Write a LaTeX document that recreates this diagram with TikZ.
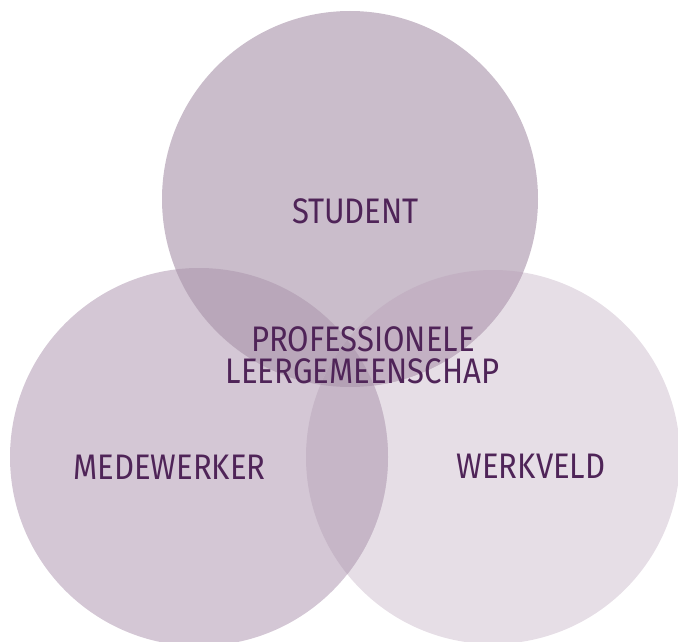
\documentclass[tikz,border=0pt]{standalone}
\usepackage{fontspec}
\setmainfont{Fira Sans}[FakeStretch=0.875]
\definecolor{cTop}{RGB}{202,189,203}
\definecolor{cLeft}{RGB}{212,199,213}
\definecolor{cRight}{RGB}{230,222,230}
\definecolor{cTL}{RGB}{185,167,186}
\definecolor{cTR}{RGB}{195,177,195}
\definecolor{cLR}{RGB}{198,182,199}
\definecolor{cTLR}{RGB}{180,161,181}
\definecolor{txt}{RGB}{79,36,88}
\tikzset{lbl/.style={text=txt,font=\fontsize{35.5}{32}\selectfont,align=center,inner sep=0pt}}
\begin{document}
\begin{tikzpicture}[x=1pt,y=-1pt]
\useasboundingbox (0,0) rectangle (678,642);
\clip (0,0) rectangle (678,642);
\def\topc{(350,199) circle (188)}
\def\leftc{(199,457) circle (189)}
\def\rightc{(493,457) circle (187)}
\fill[cRight] \rightc;
\fill[cLeft] \leftc;
\fill[cTop] \topc;
\begin{scope}\clip \topc; \fill[cTL] \leftc; \fill[cTR] \rightc;\end{scope}
\begin{scope}\clip \leftc; \fill[cLR] \rightc;\end{scope}
\begin{scope}\clip \topc; \clip \leftc; \fill[cTLR] \rightc;\end{scope}
\node[lbl,anchor=base] (student) at (355.5,223) {STUDENT};
\node[lbl,anchor=base] (medew) at (169.5,479) {MEDEWERKER};
\node[lbl,anchor=base] (werk) at (531,478) {WERKVELD};
\node[lbl,anchor=base] (plg1) at (363,351) {PROFESSIONELE};
\node[lbl,anchor=base] (plg2) at (362.5,383) {LEERGEMEENSCHAP};
\end{tikzpicture}
\end{document}
